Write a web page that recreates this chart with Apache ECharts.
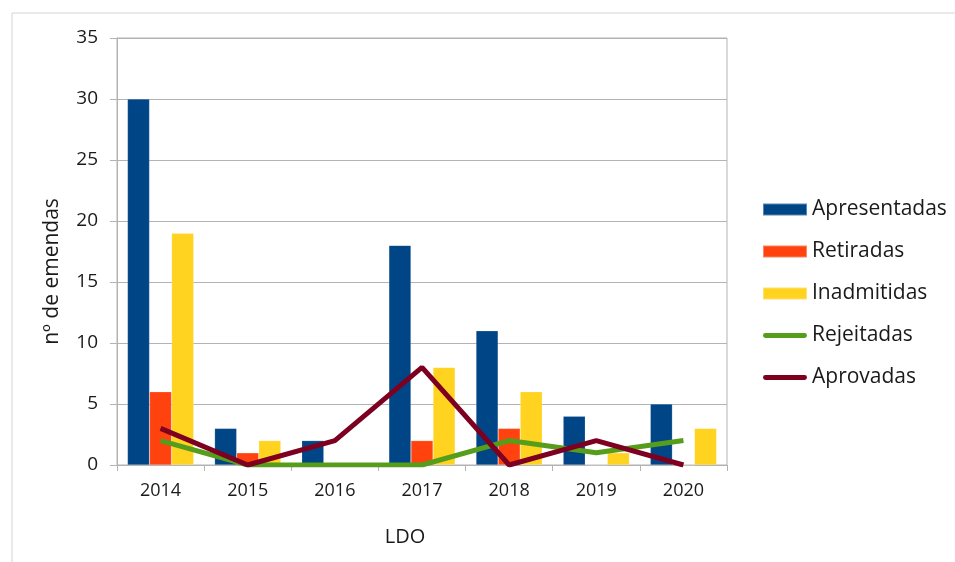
<!DOCTYPE html>
<html>
<head>
  <meta charset="UTF-8">
  <title>LDO - emendas</title>
  <script src="https://cdn.jsdelivr.net/npm/echarts@6/dist/echarts.min.js"></script>
  <style>
    html, body { margin: 0; padding: 0; background: #fff; }
    #main { width: 955px; height: 562px; }
  </style>
</head>
<body>
<div id="main"></div>
<script>
  // data
  const years = ['2014', '2015', '2016', '2017', '2018', '2019', '2020'];
  const apresentadas = [30, 3, 2, 18, 11, 4, 5];
  const retiradas = [6, 1, 0, 2, 3, 0, 0];
  const inadmitidas = [19, 2, 0, 8, 6, 1, 3];
  const rejeitadas = [2, 0, 0, 0, 2, 1, 2];
  const aprovadas = [3, 0, 2, 8, 0, 2, 0];

  const font = '"Open Sans", "Noto Sans", sans-serif';
  const textColor = '#1a1a1a';
  const lineIcon = 'path://M2,0 L42,0 A2.5,2.5 0 0 1 42,5 L2,5 A2.5,2.5 0 0 1 2,0 Z';

  function bar(name, values, color) {
    return {
      name, type: 'bar', data: values,
      barGap: '0%', barCategoryGap: '24%',
      itemStyle: { color, borderColor: 'rgba(255,255,255,0.35)', borderWidth: 0.5 }
    };
  }
  function line(name, values, color) {
    return {
      name, type: 'line', data: values, symbol: 'none',
      lineStyle: { color, width: 5 }, itemStyle: { color }, z: 5
    };
  }

  const chart = echarts.init(document.getElementById('main'), null, { renderer: 'canvas' });
  chart.setOption({
    animation: false,
    textStyle: { fontFamily: font, color: textColor },
    graphic: [{
      type: 'rect', silent: true,
      shape: { x: 12, y: 13, width: 1000, height: 600 },
      style: { fill: 'none', stroke: '#d4d4d4', lineWidth: 1 }
    }, {
      type: 'rect', silent: true, z: 1,
      shape: { x: 117, y: 38, width: 610, height: 427 },
      style: { fill: 'none', stroke: '#b3b3b3', lineWidth: 1 }
    }],
    grid: { left: 117, right: 228, top: 38, bottom: 97, containLabel: false },
    legend: {
      orient: 'vertical', left: 762, top: 199, padding: 0,
      itemWidth: 44, itemHeight: 12, itemGap: 21,
      textStyle: { fontFamily: font, fontSize: 21, color: textColor },
      data: [
        { name: 'Apresentadas', icon: 'rect' },
        { name: 'Retiradas', icon: 'rect' },
        { name: 'Inadmitidas', icon: 'rect' },
        { name: 'Rejeitadas', icon: lineIcon },
        { name: 'Aprovadas', icon: lineIcon }
      ]
    },
    xAxis: {
      type: 'category', data: years,
      name: 'LDO', nameLocation: 'middle', nameGap: 62,
      nameTextStyle: { fontSize: 20, color: textColor, fontFamily: font, padding: [0, 34, 0, 0] },
      axisLine: { lineStyle: { color: '#b3b3b3' } },
      axisTick: { show: true, length: 6, lineStyle: { color: '#b3b3b3' } },
      axisLabel: { fontSize: 18, color: textColor, margin: 17, fontFamily: font }
    },
    yAxis: {
      type: 'value', min: 0, max: 35, interval: 5,
      name: 'nº de emendas', nameLocation: 'middle', nameGap: 54,
      nameTextStyle: { fontSize: 21, color: textColor, fontFamily: font, padding: [0, 40, 0, 0] },
      axisLine: { show: true, lineStyle: { color: '#b3b3b3' } },
      axisTick: { show: true, length: 7, lineStyle: { color: '#b3b3b3' } },
      axisLabel: { fontSize: 19, color: textColor, margin: 19, fontFamily: font },
      splitLine: { lineStyle: { color: '#b3b3b3' } }
    },
    series: [
      bar('Apresentadas', apresentadas, '#004586'),
      bar('Retiradas', retiradas, '#ff420e'),
      bar('Inadmitidas', inadmitidas, '#ffd320'),
      line('Rejeitadas', rejeitadas, '#579d1c'),
      line('Aprovadas', aprovadas, '#7e0021')
    ]
  });
</script>
</body>
</html>
